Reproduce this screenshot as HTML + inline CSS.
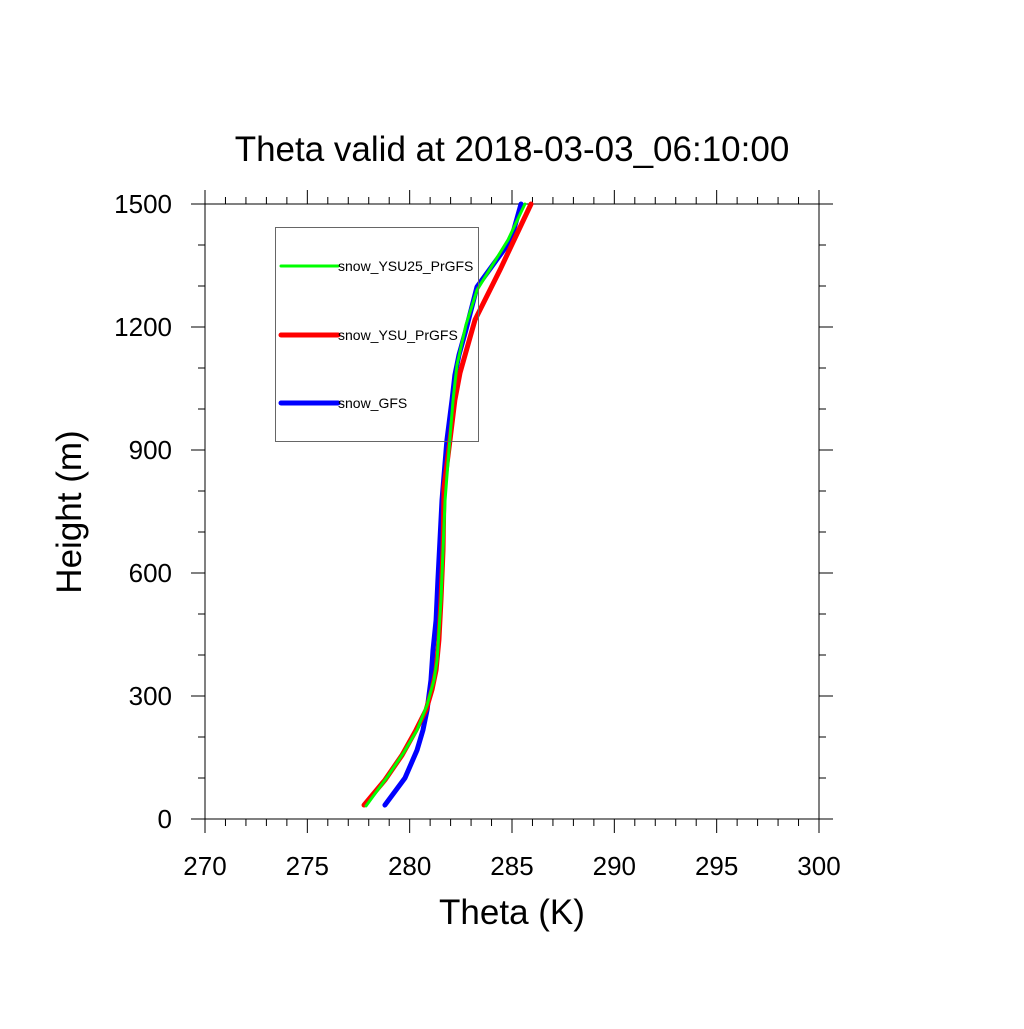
<!DOCTYPE html>
<html><head><meta charset="utf-8"><style>
body{margin:0;background:#fff}
svg text{font-family:"Liberation Sans",sans-serif;fill:#000}
</style></head><body>
<svg id="chart" width="1024" height="1024" viewBox="0 0 1024 1024" xmlns="http://www.w3.org/2000/svg">
<rect width="1024" height="1024" fill="#fff"/>
<text x="512" y="161" font-size="35" text-anchor="middle">Theta valid at 2018-03-03_06:10:00</text>
<text x="512" y="924" font-size="35" text-anchor="middle">Theta (K)</text>
<text transform="translate(81,512) rotate(-90)" font-size="35" text-anchor="middle">Height (m)</text>
<g id="axes"></g>
<g id="series"></g>
<g id="legend">
<rect x="275.5" y="227.5" width="203" height="214" fill="none" stroke="#666" stroke-width="1"/>
</g>
</svg>
<script>
const xTicks = [270,275,280,285,290,295,300];
const yTicks = [0,300,600,900,1200,1500];
const seriesNames = ["snow_YSU25_PrGFS","snow_YSU_PrGFS","snow_GFS"];
const blueTheta = [278.79,279.77,280.36,280.65,280.85,281.04,281.14,281.29,281.38,281.48,281.58,281.82,282.07,282.21,282.41,282.75,283.29,284.95,285.44];
const blueHeight = [34,100,168,217,266,339,412,485,583,680,778,924,1022,1083,1132,1193,1298,1412,1500];
const redTheta = [277.77,278.79,279.63,280.31,280.80,281.09,281.29,281.43,281.53,281.63,281.68,281.97,282.21,282.46,283.19,284.41,285.93];
const redHeight = [34,95,156,217,266,315,363,437,534,656,810,924,1022,1088,1217,1339,1500];
const greenTheta = [277.87,278.94,279.72,280.36,280.85,281.19,281.34,281.53,281.63,281.73,281.92,282.12,282.31,282.75,283.29,284.80,285.63];
const greenHeight = [32,105,163,217,278,339,388,534,656,778,900,1022,1107,1205,1290,1412,1500];

const NS="http://www.w3.org/2000/svg";
const L=205,R=819,T=204,B=819;
const xs=v=>L+(v-270)/30*(R-L);
const ys=v=>B-(v/1500)*(B-T);
function mk(tag,attrs,parent){const e=document.createElementNS(NS,tag);for(const k in attrs)e.setAttribute(k,attrs[k]);parent.appendChild(e);return e;}
const axes=document.getElementById('axes');
const frame=mk('rect',{x:L,y:T,width:R-L,height:B-T,fill:'none',stroke:'#000','stroke-width':1},axes);


for(let v=270;v<=300;v+=1){
  const x=xs(v),maj=(v%5===0),len=maj?14:7;
  const t1=mk('line',{x1:x,y1:B,x2:x,y2:B+len,stroke:'#000'},axes);
  
  
  const t2=mk('line',{x1:x,y1:T,x2:x,y2:T-len,stroke:'#000'},axes);
  
  
}
for(let v=0;v<=1500;v+=100){
  const y=ys(v),maj=(v%300===0),len=maj?14:7;
  const t1=mk('line',{x1:L,y1:y,x2:L-len,y2:y,stroke:'#000'},axes);
  
  
  const t2=mk('line',{x1:R,y1:y,x2:R+len,y2:y,stroke:'#000'},axes);
  
  
}
xTicks.forEach(v=>{const t=mk('text',{x:xs(v),y:875,'font-size':26,'text-anchor':'middle'},axes);t.textContent=v;
  
  });
yTicks.forEach(v=>{const t=mk('text',{x:172,y:ys(v)+9,'font-size':26,'text-anchor':'end'},axes);t.textContent=v;
  
  });
const ser=document.getElementById('series');
function line(th,h,color,w,name){
  const p=mk('polyline',{points:th.map((v,i)=>xs(v)+','+ys(h[i])).join(' '),fill:'none',stroke:color,'stroke-width':w,'stroke-linejoin':'round','stroke-linecap':'round'},ser);
  
  
}
line(blueTheta,blueHeight,'#0000ff',5,'snow-gfs-line');
line(redTheta,redHeight,'#ff0000',5,'snow-ysu-prgfs-line');
line(greenTheta,greenHeight,'#00ff00',3,'snow-ysu25-prgfs-line');
const leg=document.getElementById('legend');
const lc=['#00ff00','#ff0000','#0000ff'],lw=[3,5,5],ly=[266,335,403];
seriesNames.forEach((n,i)=>{
  const l=mk('line',{x1:281,y1:ly[i],x2:338,y2:ly[i],stroke:lc[i],'stroke-width':lw[i],'stroke-linecap':'round'},leg);
  
  
  const t=mk('text',{x:338,y:ly[i]+5,'font-size':14},leg);t.textContent=n;
  
  
});
</script>
</body></html>
